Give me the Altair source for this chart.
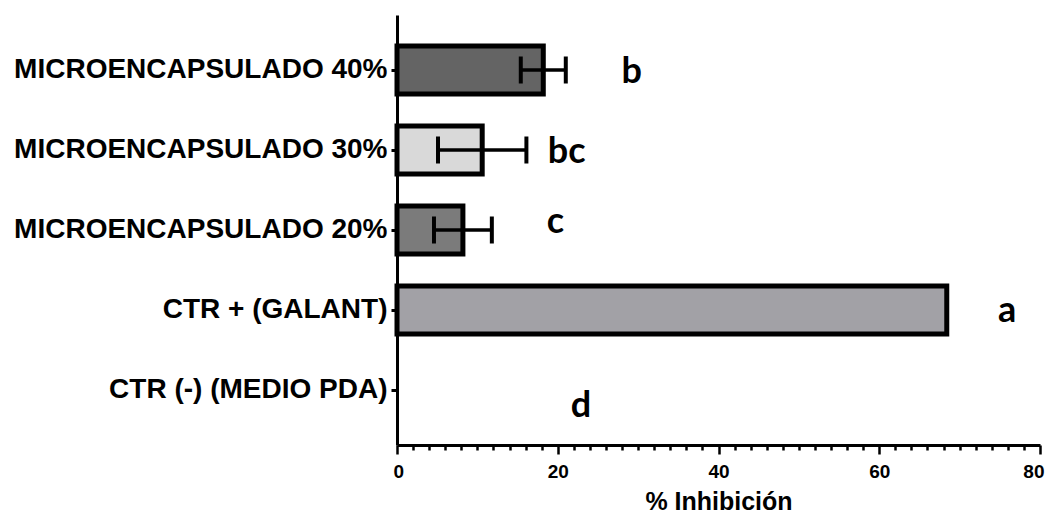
import altair as alt
import pandas as pd

categories = ["MICROENCAPSULADO 40%", "MICROENCAPSULADO 30%", "MICROENCAPSULADO 20%",
              "CTR + (GALANT)", "CTR (-) (MEDIO PDA)"]
means = [18.2, 10.6, 8.2, 68.4, 0.0]
sds = [2.8, 5.5, 3.6, 0.0, 0.0]
fills = ["#646464", "#d9d9d9", "#7b7b7b", "#a2a1a6", "#ffffff"]
letters = ["b", "bc", "c", "a", "d"]
letter_x = [29.2, 21.1, 19.7, 75.9, 22.9]
letter_dy = [13, 13, 3, 12, 27]
axis_ticks = list(range(0, 81, 2))

df = pd.DataFrame({
    "cat": categories, "mean": means, "sd": sds,
    "letter": letters, "lx": letter_x, "dy": letter_dy,
})
df["lo"] = df["mean"] - df["sd"]
df["hi"] = df["mean"] + df["sd"]

BANDWIDTH = 48

xscale = alt.Scale(domain=[0, 80], nice=False, zero=True)
yscale = alt.Scale(domain=categories, paddingInner=0.4, paddingOuter=0.3875)
yaxis = alt.Axis(title=None, labelFont="Liberation Sans", labelFontSize=28,
                 labelFontWeight="bold", labelColor="black", labelLimit=600,
                 labelPadding=4, tickSize=6, tickWidth=3, tickColor="black",
                 domainColor="black", domainWidth=3, grid=False)
Y = alt.Y("cat:N", sort=categories, scale=yscale, axis=yaxis)

xaxis = alt.Axis(
    values=axis_ticks, tickCount=100, title="% Inhibición", orient="bottom",
    labelExpr="datum.value % 20 === 0 ? datum.label : ''", labelOverlap=False,
    titleFont="Liberation Sans", titleFontSize=25, titleFontWeight="bold",
    titleColor="black", titlePadding=8,
    labelFont="Liberation Sans", labelFontSize=19, labelFontWeight="bold",
    labelColor="black", labelPadding=8, labelFlush=True, labelFlushOffset=4,
    tickSize={"condition": {"test": "datum.value % 20 === 0", "value": 9}, "value": 5},
    tickWidth=2.5, tickColor="black",
    domainColor="black", domainWidth=3, grid=False)

base = alt.Chart(df)

bars = base.transform_filter("datum.mean > 0").mark_bar(
    stroke="black", strokeWidth=5
).encode(
    x=alt.X("mean:Q", scale=xscale, axis=xaxis),
    y=Y,
    color=alt.Color("cat:N", scale=alt.Scale(domain=categories, range=fills), legend=None),
)

err = base.transform_filter("datum.sd > 0")
rule = err.mark_rule(color="black", strokeWidth=3.5).encode(
    x=alt.X("lo:Q", scale=xscale), x2="hi:Q", y=Y)
cap_lo = err.mark_tick(color="black", size=27, thickness=4, opacity=1).encode(
    x=alt.X("lo:Q", scale=xscale), y=Y)
cap_hi = err.mark_tick(color="black", size=27, thickness=4, opacity=1).encode(
    x=alt.X("hi:Q", scale=xscale), y=Y)

text = base.transform_calculate(off=f"datum.dy + {BANDWIDTH / 2}").mark_text(
    font="Lato", fontSize=36, fontWeight="bold",
    baseline="alphabetic", align="center", color="black").encode(
    x=alt.X("lx:Q", scale=xscale),
    y=Y,
    yOffset=alt.YOffset("off:Q", scale=None),
    text="letter:N",
)

chart = alt.layer(bars, rule, cap_lo, cap_hi, text).properties(
    width=643, height=430,
    autosize=alt.AutoSizeParams(type="none"),
    padding={"left": 389, "top": 7, "right": 5, "bottom": 68},
).configure_view(stroke=None)

chart.save("out.html", embed_options={"renderer": "svg", "actions": False})
